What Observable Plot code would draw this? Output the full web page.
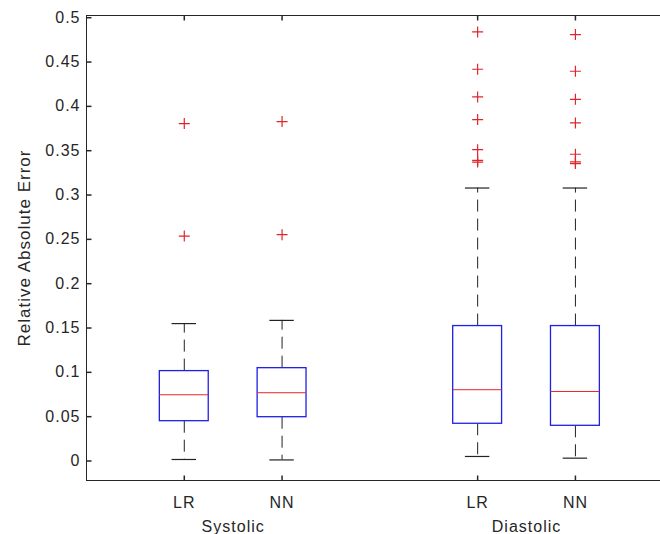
<!DOCTYPE html>
<html>
<head>
<meta charset="utf-8">
<script src="https://cdn.jsdelivr.net/npm/d3@7"></script>
<script src="https://cdn.jsdelivr.net/npm/@observablehq/plot@0.6"></script>
<style>
  html, body { margin: 0; padding: 0; background: #fff; }
</style>
</head>
<body>
<div id="chart"></div>
<script>
// ---- data ----
const groups = ["Systolic", "Diastolic"];
const models = ["LR", "NN"];
// box statistics, order: Systolic-LR, Systolic-NN, Diastolic-LR, Diastolic-NN
const lowerWhisker = [0.0017, 0.0012, 0.0051, 0.0032];
const q1 = [0.0449, 0.0494, 0.0420, 0.0397];
const median = [0.0747, 0.0770, 0.0804, 0.0784];
const q3 = [0.1014, 0.1047, 0.1522, 0.1522];
const upperWhisker = [0.1550, 0.1586, 0.3079, 0.3079];
const outliersSystolicLR = [0.3806, 0.2537];
const outliersSystolicNN = [0.3828, 0.2553];
const outliersDiastolicLR = [0.4840, 0.4419, 0.4106, 0.3851, 0.3512, 0.3392, 0.3372];
const outliersDiastolicNN = [0.4810, 0.4396, 0.4080, 0.3813, 0.3460, 0.3373, 0.3355];
const yTickValues = [0, 0.05, 0.1, 0.15, 0.2, 0.25, 0.3, 0.35, 0.4, 0.45, 0.5];
const yLabel = "Relative Absolute Error";

// ---- build table ----
const outlierLists = [outliersSystolicLR, outliersSystolicNN, outliersDiastolicLR, outliersDiastolicNN];
const boxes = [];
groups.forEach((g, gi) => models.forEach((m, mi) => {
  const i = gi * models.length + mi;
  boxes.push({group: g, model: m, pos: gi * 3 + mi + 1,
    lo: lowerWhisker[i], q1: q1[i], med: median[i], q3: q3[i], hi: upperWhisker[i]});
}));
const outliers = [];
boxes.forEach((b, i) => outlierLists[i].forEach(v => outliers.push({pos: b.pos, v})));
const groupCenters = groups.map((g, gi) => ({group: g, pos: gi * 3 + 1.5}));

const xDomain = [0, 5.87];
const yDomain = [-0.022, 0.5025];
const boxHalf = 0.25, capHalf = 0.125;
const axisColor = "#262626";

// custom symbols
const plusSym = {draw(ctx, size) { const r = Math.sqrt(size / Math.PI); ctx.moveTo(-r, 0); ctx.lineTo(r, 0); ctx.moveTo(0, -r); ctx.lineTo(0, r); }};
const tickRight = {draw(ctx) { ctx.moveTo(0, 0); ctx.lineTo(5, 0); }};
const tickUp = {draw(ctx) { ctx.moveTo(0, 0); ctx.lineTo(0, -5); }};
const tickDown = {draw(ctx) { ctx.moveTo(0, 0); ctx.lineTo(0, 5); }};

const fmt = d => d === 0 ? "0" : String(+d.toFixed(2));

const chart = Plot.plot({
  width: 660,
  height: 534,
  marginLeft: 86,
  marginRight: 0,
  marginTop: 15,
  marginBottom: 54,
  style: {fontFamily: "'Liberation Sans', Arial, sans-serif", fontSize: "16px", color: axisColor, background: "#fff", letterSpacing: "1px"},
  x: {domain: xDomain, label: null, axis: null},
  y: {domain: yDomain, label: null, axis: null},
  marks: [
    // axes lines
    Plot.ruleX([xDomain[0]], {stroke: axisColor, strokeWidth: 1}),
    Plot.ruleY([yDomain[0], yDomain[1]], {stroke: axisColor, strokeWidth: 1}),
    // inward ticks
    Plot.dot(yTickValues, {x: () => xDomain[0], y: d => d, symbol: tickRight, fill: "none", stroke: axisColor, r: 5}),
    Plot.dot(boxes, {x: "pos", y: () => yDomain[0], symbol: tickUp, fill: "none", stroke: axisColor, r: 5}),
    Plot.dot(boxes, {x: "pos", y: () => yDomain[1], symbol: tickDown, fill: "none", stroke: axisColor, r: 5}),
    // tick labels
    Plot.axisY(yTickValues, {tickSize: 0, tickPadding: 6, tickFormat: fmt, label: null, fill: axisColor}),
    Plot.axisX(boxes.map(b => b.pos), {tickSize: 0, tickPadding: 16, tickFormat: p => boxes.find(b => b.pos === p).model, label: null, fill: axisColor}),
    // group labels
    Plot.text(groupCenters, {x: "pos", frameAnchor: "bottom", dy: 46, text: "group", fill: axisColor, fontSize: 16, lineAnchor: "middle"}),
    // y label
    Plot.text([yLabel], {frameAnchor: "left", dx: -62, rotate: -90, textAnchor: "middle", lineAnchor: "middle", text: d => d, fill: axisColor, fontSize: 17, letterSpacing: "0.8px"}),
    // whiskers
    Plot.ruleX(boxes, {x: "pos", y1: "q3", y2: "hi", stroke: "#222", strokeDasharray: "12,7", strokeWidth: 1}),
    Plot.ruleX(boxes, {x: "pos", y1: "q1", y2: "lo", stroke: "#222", strokeDasharray: "12,7", strokeWidth: 1}),
    // caps
    Plot.ruleY(boxes, {y: "hi", x1: d => d.pos - capHalf, x2: d => d.pos + capHalf, stroke: "#222", strokeWidth: 1.2}),
    Plot.ruleY(boxes, {y: "lo", x1: d => d.pos - capHalf, x2: d => d.pos + capHalf, stroke: "#222", strokeWidth: 1.2}),
    // boxes
    Plot.rect(boxes, {x1: d => d.pos - boxHalf, x2: d => d.pos + boxHalf, y1: "q1", y2: "q3", fill: "#fff", stroke: "#1f1fe8", strokeWidth: 1.3}),
    // medians
    Plot.ruleY(boxes, {y: "med", x1: d => d.pos - boxHalf, x2: d => d.pos + boxHalf, stroke: "#e8262c", strokeWidth: 1}),
    // outliers
    Plot.dot(outliers, {x: "pos", y: "v", symbol: plusSym, r: 5.5, fill: "none", stroke: "#e0262c", strokeWidth: 1.2})
  ]
});
document.getElementById("chart").appendChild(chart);
</script>
</body>
</html>
